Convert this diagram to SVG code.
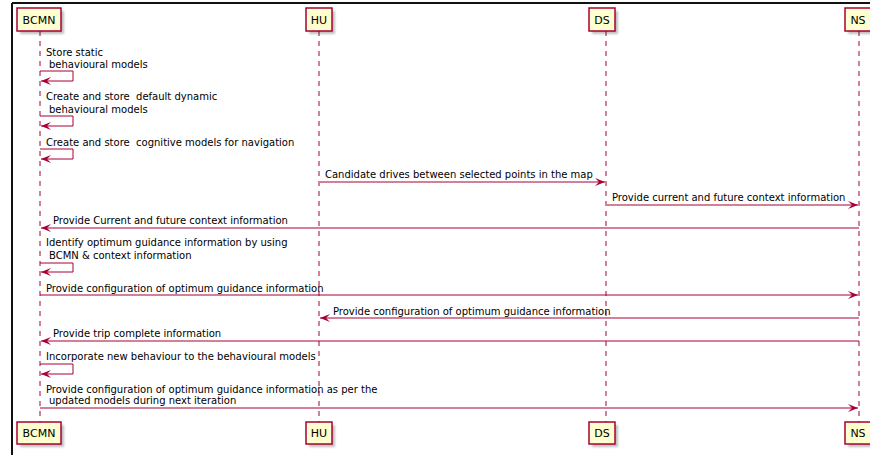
<svg xmlns="http://www.w3.org/2000/svg" width="870" height="455" viewBox="0 0 870 455">
<defs>
<style>
.box{fill:#FEFECE;stroke:#A80036;stroke-width:1.5}
.shadow{fill:#000;opacity:0.25}
.pt{font-family:"DejaVu Sans",sans-serif;font-size:11px;fill:#000;text-anchor:middle}
.life{stroke:#A80036;stroke-width:1;stroke-dasharray:5,5;fill:none}
.msg{stroke:#A80036;stroke-width:1;fill:none}
.t{font-family:"DejaVu Sans",sans-serif;font-size:10px;fill:#000}
</style>
<marker id="ah" viewBox="0 0 10 8" refX="10" refY="4" markerWidth="10" markerHeight="8" markerUnits="userSpaceOnUse" orient="auto">
<polygon points="0,0 10,4 0,8 4,4" fill="#A80036"/>
</marker>
<filter id="sh" x="-20%" y="-20%" width="160%" height="160%">
<feGaussianBlur stdDeviation="1.2"/>
</filter>
</defs>
<rect width="870" height="455" fill="#fff"/>
<line x1="12" y1="3" x2="870" y2="3" stroke="#111" stroke-width="2"/>
<line x1="12" y1="3" x2="12" y2="455" stroke="#111" stroke-width="2"/>

<g id="lifelines">
<line class="life" x1="40" y1="31" x2="40" y2="422"/>
<line class="life" x1="319" y1="31" x2="319" y2="422"/>
<line class="life" x1="606" y1="31" x2="606" y2="422"/>
<line class="life" x1="859" y1="31" x2="859" y2="422"/>
</g>

<g id="BCMN">
<rect class="shadow" x="20" y="11" width="44" height="23" filter="url(#sh)"/>
<rect class="box" x="17" y="8" width="44" height="23"/>
<text class="pt" x="39" y="24">BCMN</text>
<rect class="shadow" x="20" y="425" width="44" height="22" filter="url(#sh)"/>
<rect class="box" x="17" y="422" width="44" height="22"/>
<text class="pt" x="39" y="437">BCMN</text>
</g>
<g id="HU">
<rect class="shadow" x="309" y="11" width="26" height="23" filter="url(#sh)"/>
<rect class="box" x="306" y="8" width="26" height="23"/>
<text class="pt" x="319" y="24">HU</text>
<rect class="shadow" x="309" y="425" width="26" height="22" filter="url(#sh)"/>
<rect class="box" x="306" y="422" width="26" height="22"/>
<text class="pt" x="319" y="437">HU</text>
</g>
<g id="DS">
<rect class="shadow" x="592" y="11" width="26" height="23" filter="url(#sh)"/>
<rect class="box" x="589" y="8" width="26" height="23"/>
<text class="pt" x="602" y="24">DS</text>
<rect class="shadow" x="592" y="425" width="26" height="22" filter="url(#sh)"/>
<rect class="box" x="589" y="422" width="26" height="22"/>
<text class="pt" x="602" y="437">DS</text>
</g>
<g id="NS">
<rect class="shadow" x="848" y="11" width="26" height="23" filter="url(#sh)"/>
<rect class="box" x="845" y="8" width="26" height="23"/>
<text class="pt" x="858" y="24">NS</text>
<rect class="shadow" x="848" y="425" width="26" height="22" filter="url(#sh)"/>
<rect class="box" x="845" y="422" width="26" height="22"/>
<text class="pt" x="858" y="437">NS</text>
</g>

<g id="connectors">
<polyline class="msg" points="40,71 73,71 73,81 41,81" marker-end="url(#ah)"/>
<polyline class="msg" points="40,116 73,116 73,126 41,126" marker-end="url(#ah)"/>
<polyline class="msg" points="40,149 73,149 73,159 41,159" marker-end="url(#ah)"/>
<line class="msg" x1="320" y1="182" x2="605" y2="182" marker-end="url(#ah)"/>
<line class="msg" x1="607" y1="205" x2="858" y2="205" marker-end="url(#ah)"/>
<line class="msg" x1="859" y1="228" x2="41" y2="228" marker-end="url(#ah)"/>
<polyline class="msg" points="40,263 73,263 73,272 41,272" marker-end="url(#ah)"/>
<line class="msg" x1="40" y1="295" x2="858" y2="295" marker-end="url(#ah)"/>
<line class="msg" x1="859" y1="318" x2="320" y2="318" marker-end="url(#ah)"/>
<line class="msg" x1="859" y1="341" x2="41" y2="341" marker-end="url(#ah)"/>
<polyline class="msg" points="40,364 73,364 73,374 41,374" marker-end="url(#ah)"/>
<line class="msg" x1="40" y1="408" x2="858" y2="408" marker-end="url(#ah)"/>
</g>

<g id="labels">
<text class="t" x="46" y="56">Store static</text>
<text class="t" x="49" y="68">behavioural models</text>
<text class="t" x="46" y="100" xml:space="preserve">Create and store  default dynamic</text>
<text class="t" x="49" y="113">behavioural models</text>
<text class="t" x="46" y="146" xml:space="preserve">Create and store  cognitive models for navigation</text>
<text class="t" x="325" y="178">Candidate drives between selected points in the map</text>
<text class="t" x="612" y="201">Provide current and future context information</text>
<text class="t" x="53" y="224">Provide Current and future context information</text>
<text class="t" x="46" y="246">Identify optimum guidance information by using</text>
<text class="t" x="49" y="259">BCMN &amp; context information</text>
<text class="t" x="46" y="292">Provide configuration of optimum guidance information</text>
<text class="t" x="333" y="315">Provide configuration of optimum guidance information</text>
<text class="t" x="53" y="337">Provide trip complete information</text>
<text class="t" x="46" y="360">Incorporate new behaviour to the behavioural models</text>
<text class="t" x="46" y="393">Provide configuration of optimum guidance information as per the</text>
<text class="t" x="49" y="404">updated models during next iteration</text>
</g>
</svg>
